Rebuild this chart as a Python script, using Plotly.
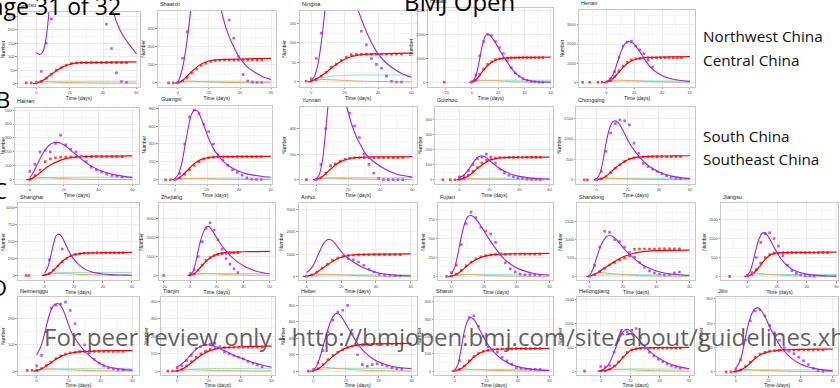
import plotly.graph_objects as go

W, H = 840, 388

PROVINCES = ["Gansu", "Shaanxi", "Ningxia", "Hunan", "Henan",
             "Hainan", "Guangxi", "Yunnan", "Guizhou", "Chongqing",
             "Shanghai", "Zhejiang", "Anhui", "Fujian", "Shandong", "Jiangsu",
             "Neimenggu", "Tianjin", "Hebei", "Shanxi", "Heilongjiang", "Jilin"]

# day grids
T_FIT = [-2, 0, 2, 4, 6, 8, 10, 12, 14, 16, 18, 20, 22, 25, 28, 31, 35, 40, 45, 50, 55, 60]
T_REC = [-2, 0, 4, 8, 12, 16, 20, 25, 30, 40, 50, 60]
T_SMALL = [0, 5, 10, 20, 30, 45, 60]
T_OBS = [-6, -3, 0, 3, 6, 9, 12, 15, 18, 21, 24, 27, 30, 33, 36, 39, 42, 45, 48, 51, 54]

# fitted infected curve (purple)
FIT_I = {
    "Gansu": [None, 115, 108, 118, 175, 300, 600, 1000, 1500, 1800, 2000, 2100, 2100, 2000, 1700, 1300, 900, 500, 290, 200, 150, 110],
    "Shaanxi": [None, 0, 100, 250, 480, 760, 1100, 1400, 1600, 1650, 1550, 1350, 1150, 1000, 790, 600, 430, 270, 170, 110, 65, 36],
    "Ningxia": [None, 2, 15, 45, 100, 175, 260, 330, 380, 400, 390, 350, 300, 235, 185, 150, 110, 72, 48, 32, 20, 12],
    "Hunan": [None, 20, 150, 450, 1000, 1550, 1900, 2000, 1950, 1800, 1650, 1450, 1250, 1000, 750, 520, 300, 130, 55, 25, 12, 8],
    "Henan": [None, 40, 120, 300, 620, 1050, 1500, 1850, 2060, 2120, 2100, 2000, 1800, 1500, 1150, 850, 580, 350, 210, 130, 80, 50],
    "Hainan": [None, 15, 50, 100, 150, 195, 230, 255, 266, 268, 262, 250, 232, 200, 170, 140, 105, 72, 50, 35, 24, 17],
    "Guangxi": [None, 15, 60, 170, 360, 560, 720, 775, 770, 700, 610, 510, 420, 320, 250, 190, 140, 95, 65, 48, 36, 28],
    "Yunnan": [None, 2, 40, 150, 380, 650, 850, 950, 900, 780, 620, 530, 440, 340, 265, 200, 150, 105, 70, 45, 30, 20],
    "Guizhou": [None, 15, 25, 40, 65, 95, 125, 148, 157, 155, 145, 128, 110, 88, 68, 52, 35, 22, 14, 9, 6, 4],
    "Chongqing": [None, 20, 150, 450, 900, 1230, 1410, 1450, 1400, 1280, 1130, 980, 840, 680, 540, 420, 300, 190, 120, 75, 45, 25],
    "Shanghai": [None, 40, 120, 280, 470, 590, 610, 560, 470, 380, 300, 240, 190, 130, 90, 62, 38, 22, 13, 8, 5, 3],
    "Zhejiang": [None, 30, 200, 650, 1300, 1900, 2300, 2580, 2600, 2450, 2230, 2000, 1780, 1480, 1220, 1000, 760, 520, 350, 220, 140, 90],
    "Anhui": [None, 180, 300, 520, 850, 1200, 1500, 1650, 1650, 1530, 1320, 1120, 950, 760, 600, 460, 320, 190, 110, 65, 40, 25],
    "Fujian": [None, 30, 120, 300, 520, 690, 790, 805, 780, 730, 670, 600, 530, 430, 340, 260, 180, 110, 70, 42, 25, 15],
    "Shandong": [None, 20, 200, 480, 750, 950, 1080, 1115, 1090, 1010, 900, 790, 690, 560, 440, 340, 240, 150, 95, 60, 40, 27],
    "Jiangsu": [None, 20, 150, 420, 750, 1000, 1140, 1150, 1060, 920, 770, 630, 500, 360, 250, 170, 110, 60, 35, 20, 12, 8],
    "Neimenggu": [None, 62, 85, 120, 170, 215, 245, 256, 255, 240, 210, 175, 145, 115, 90, 70, 48, 28, 16, 10, 6, 4],
    "Tianjin": [None, 25, 35, 50, 68, 88, 108, 125, 138, 147, 151, 150, 146, 138, 126, 113, 96, 77, 60, 45, 32, 22],
    "Hebei": [None, 10, 60, 160, 300, 440, 570, 660, 700, 690, 640, 570, 500, 400, 310, 240, 170, 110, 75, 50, 38, 30],
    "Shanxi": [None, 5, 40, 130, 230, 290, 310, 300, 270, 235, 200, 168, 140, 108, 82, 62, 42, 26, 16, 10, 6, 4],
    "Heilongjiang": [None, 20, 40, 90, 180, 320, 480, 640, 780, 860, 880, 850, 790, 690, 580, 480, 370, 260, 180, 120, 80, 50],
    "Jilin": [None, 15, 35, 75, 140, 200, 240, 260, 262, 250, 228, 200, 172, 135, 102, 78, 53, 32, 20, 12, 7, 4],
}

# reported infected (purple points)
OBS_I = {
    "Gansu": [None, None, 5, 45, 150, 240, None, None, None, None, None, None, None, None, None, None, 220, 130, 40, 8, 5],
    "Shaanxi": [None, None, 5, 270, 560, None, None, None, None, None, None, None, None, 690, 490, 290, 90, 20, 8, 5, 5],
    "Ningxia": [None, None, 8, 60, 125, None, None, None, None, None, None, None, 130, 95, 60, 45, 35, 15, 2, 0, 0],
    "Hunan": [None, None, 30, 300, 1100, 1700, 2000, 1950, 1700, 1450, 1200, 900, 600, 400, 250, 150, 80, 40, 20, 10, 5],
    "Henan": [None, None, 30, 200, 550, 1300, 1900, 2100, 2150, 1900, 1700, 1500, 1150, 800, None, None, None, None, None, None, None],
    "Hainan": [None, None, 60, 110, 200, 210, 200, 260, 320, 250, 220, 200, 170, 130, 90, 70, 55, 40, 30, 25, 20],
    "Guangxi": [None, None, 5, 70, 400, 700, 780, 740, 620, 540, 400, 280, 220, 160, 110, 80, 50, 20, 5, 3, 2],
    "Yunnan": [None, None, 2, 120, 400, None, None, None, None, 520, 420, 330, 200, 120, 50, 10, 0, 0, 0, 0, 0],
    "Guizhou": [None, None, 20, 25, 60, 100, 140, 150, 170, 150, 110, 70, 45, 30, 20, 12, 8, 4, 2, 1, 0],
    "Chongqing": [None, None, 10, 200, 700, 1150, 1380, 1470, 1450, 1350, 900, 650, 400, 320, 260, 200, 150, 100, 60, 30, 15],
    "Shanghai": [None, None, None, 230, None, None, 390, None, None, None, None, None, None, None, None, None, None, None, None, None, None],
    "Zhejiang": [None, None, 100, 300, 1000, 1800, 2500, 2800, 2400, 1900, 1400, 900, 600, 350, 150, None, None, None, None, None, None],
    "Anhui": [None, None, 20, None, None, None, None, None, None, None, 800, 750, 650, 500, 320, 200, 100, 60, 40, 30, 20],
    "Fujian": [None, None, 50, 150, 420, 700, 850, 780, 650, 600, 560, 450, 300, 180, 100, 60, 30, 20, 20, 20, 15],
    "Shandong": [None, None, 10, 300, 800, 1230, 1200, 1000, 950, 800, 650, 520, 380, 250, 150, 100, 60, 40, 50, 100, 120],
    "Jiangsu": [None, None, 30, 100, 500, 900, 1130, 1150, 1000, 800, 550, 300, 150, 80, 40, 20, 10, 5, None, None, None],
    "Neimenggu": [None, None, 20, 60, 150, 240, 250, 255, 262, 230, 180, 140, 100, 70, 45, 30, 20, 12, 8, 5, 5],
    "Tianjin": [None, None, 20, 30, 60, 90, 130, 140, 150, 155, 160, 140, 110, 100, 90, 80, 70, 55, 45, 35, 25],
    "Hebei": [None, None, 20, 100, 250, 480, 620, 720, 740, 800, 450, 200, 80, 60, 80, 90, 80, 60, 40, 30, 25],
    "Shanxi": [None, None, 5, 60, 200, 310, 320, 260, 200, 140, 120, 110, 80, 60, 40, 20, 15, 12, 10, 10, 10],
    "Heilongjiang": [None, None, 100, 90, 120, 400, 660, 780, 830, 860, 900, 700, 500, 400, 320, 250, 200, 150, 110, 90, 70],
    "Jilin": [None, None, 10, 50, 130, 210, 250, 255, 230, 190, 160, 130, 100, 85, 75, 60, 45, 30, 15, 5, 2],
}

# fitted recovered curve (red)
FIT_R = {
    "Gansu": [0, 2, 12, 30, 48, 62, 72, 77, 78, 79, 80, 81],
    "Shaanxi": [0, 0, 40, 110, 170, 215, 240, 252, 258, 262, 265, 268],
    "Ningxia": [0, 2, 10, 22, 35, 48, 58, 66, 70, 72, 73, 74],
    "Hunan": [0, 5, 150, 450, 700, 870, 960, 1010, 1030, 1040, 1045, 1050],
    "Henan": [0, 5, 150, 450, 780, 1030, 1180, 1270, 1300, 1320, 1330, 1340],
    "Hainan": [0, 2, 30, 70, 105, 130, 148, 160, 166, 169, 170, 171],
    "Guangxi": [0, 2, 40, 110, 180, 225, 245, 255, 258, 260, 261, 262],
    "Yunnan": [0, 2, 25, 70, 115, 145, 162, 172, 176, 178, 179, 180],
    "Guizhou": [0, 2, 15, 40, 75, 105, 128, 142, 147, 149, 150, 150],
    "Chongqing": [0, 2, 40, 150, 290, 400, 490, 550, 570, 580, 585, 590],
    "Shanghai": [0, 5, 40, 120, 210, 270, 305, 325, 333, 336, 338, 340],
    "Zhejiang": [0, 10, 150, 450, 750, 980, 1120, 1200, 1240, 1260, 1270, 1280],
    "Anhui": [0, 10, 100, 300, 520, 720, 860, 950, 985, 1000, 1005, 1010],
    "Fujian": [0, 5, 40, 110, 180, 230, 265, 285, 295, 300, 302, 305],
    "Shandong": [0, 5, 80, 200, 320, 430, 530, 610, 660, 700, 710, 715],
    "Jiangsu": [0, 5, 80, 250, 450, 580, 620, 630, 635, 637, 640, 640],
    "Neimenggu": [0, 2, 12, 28, 45, 58, 66, 72, 75, 77, 78, 78],
    "Tianjin": [0, 2, 15, 40, 70, 95, 115, 128, 135, 140, 142, 143],
    "Hebei": [0, 5, 40, 110, 180, 240, 280, 310, 325, 332, 335, 337],
    "Shanxi": [0, 2, 15, 45, 80, 105, 118, 125, 128, 130, 131, 132],
    "Heilongjiang": [0, 5, 20, 70, 180, 320, 430, 480, 490, 495, 497, 500],
    "Jilin": [0, 2, 10, 30, 55, 72, 82, 87, 90, 92, 93, 93],
}

# reported recovered (red points)
OBS_R = {
    "Gansu": [3, 3, 3, 8, 20, 35, 50, 60, 68, 74, 77, 78, 78, 78, 78, 78, 78, 78, 78, 78, 78],
    "Shaanxi": [0, 0, 2, 20, 60, 110, 150, 190, 215, 235, 245, 250, 250, 250, 250, 250, 250, 250, 250, 250, 250],
    "Ningxia": [None, 2, 2, 6, 15, 25, 38, 45, 55, 64, 70, 71, 71, 71, 71, 71, 71, 71, 71, 71, 71],
    "Hunan": [None, None, 5, 100, 330, 550, 750, 850, 950, 980, 1000, 1010, 1020, 1025, 1025, 1030, 1030, 1030, 1030, 1030, 1030],
    "Henan": [0, 0, 5, 80, 300, 600, 850, 1050, 1180, 1230, 1260, 1270, 1280, 1280, 1285, 1285, 1290, 1290, 1290, 1290, 1290],
    "Hainan": [None, None, 2, 30, 70, 130, 150, 158, 162, 163, 163, 164, 164, 164, 165, 165, 165, 165, 165, 165, 165],
    "Guangxi": [0, 0, 2, 20, 60, 110, 160, 200, 230, 245, 252, 255, 255, 255, 255, 255, 255, 255, 255, 255, 255],
    "Yunnan": [0, None, 2, 15, 50, 110, 125, 145, 160, 168, 172, 172, 172, 172, 172, 172, 172, 172, 172, 172, 172],
    "Guizhou": [0, 0, 2, 10, 30, 55, 80, 110, 130, 140, 145, 147, 147, 148, 148, 148, 148, 148, 148, 148, 148],
    "Chongqing": [0, None, 2, 20, 80, 180, 280, 370, 450, 510, 540, 555, 560, 560, 562, 563, 564, 565, 565, 565, 565],
    "Shanghai": [None, None, 10, 30, 80, 140, 200, 250, 290, 310, 320, 328, 330, 332, 333, 334, 335, 335, 335, 335, 335],
    "Zhejiang": [None, None, 10, 80, 280, 550, 800, 950, 1050, 1120, 1160, 1180, 1200, 1200, 1210, None, None, None, None, None, None],
    "Anhui": [None, None, 10, 60, 200, 380, 560, 720, 830, 900, 940, 960, 970, 975, 975, 978, 978, 980, 980, 980, 980],
    "Fujian": [None, 0, 5, 30, 80, 140, 190, 230, 260, 275, 285, 290, 292, 293, 294, 295, 295, 295, 295, 295, 295],
    "Shandong": [None, None, 5, 50, 130, 220, 310, 380, 450, 500, 560, 740, 745, 745, 748, 748, 750, 750, 750, 750, 750],
    "Jiangsu": [None, None, 5, 50, 180, 350, 500, 580, 610, 620, 622, 623, 624, 625, 625, 625, 625, 625, 625, 625, 625],
    "Neimenggu": [3, 3, 3, 10, 22, 35, 48, 58, 65, 70, 72, 74, 74, 75, 75, 75, 75, 75, 75, 75, 75],
    "Tianjin": [0, 0, 2, 10, 30, 55, 80, 100, 115, 125, 130, 133, 135, 136, 136, 137, 137, 137, 137, 137, 137],
    "Hebei": [None, 0, 5, 30, 80, 140, 190, 230, 260, 290, 305, 315, 320, 325, 327, 328, 329, 330, 330, 330, 330],
    "Shanxi": [None, None, 2, 10, 30, 60, 85, 105, 115, 120, 125, 127, 128, 129, 129, 130, 130, 130, 130, 130, 130],
    "Heilongjiang": [None, None, 5, 10, 40, 110, 200, 300, 400, 450, 470, 480, 482, 483, 484, 485, 485, 485, 485, 485, 485],
    "Jilin": [0, 0, 2, 8, 22, 40, 60, 73, 80, 85, 87, 88, 89, 89, 90, 90, 90, 90, 90, 90, 90],
}

# earliest recorded days (red points before the grid starts)
RED_LEAD_DAYS = {"Hunan": [-21], "Henan": [-17, -12], "Guizhou": [-11], "Chongqing": [-8],
                 "Shanghai": [-13, -11], "Zhejiang": [-20], "Jiangsu": [-12], "Heilongjiang": [-11]}
RED_LEAD_VALUES = {"Hunan": [0], "Henan": [0, 0], "Guizhou": [0], "Chongqing": [0],
                   "Shanghai": [0, 0], "Zhejiang": [0], "Jiangsu": [0], "Heilongjiang": [0]}

# fitted deaths (cyan) and exposed (orange)
FIT_C = {
    "Gansu": [4, 8, 9, 9, 9, 9, 9], "Shaanxi": [2, 10, 15, 18, 18, 18, 18],
    "Ningxia": [2, 8, 14, 17, 18, 18, 18], "Hunan": [5, 40, 70, 85, 90, 90, 90],
    "Henan": [5, 40, 60, 70, 70, 70, 70], "Hainan": [2, 10, 15, 18, 18, 18, 18],
    "Guangxi": [2, 10, 15, 18, 18, 18, 18], "Yunnan": [2, 10, 15, 15, 15, 15, 15],
    "Guizhou": [2, 6, 8, 10, 10, 10, 10], "Chongqing": [5, 20, 30, 35, 35, 35, 35],
    "Shanghai": [5, 30, 40, 45, 45, 45, 45], "Zhejiang": [5, 50, 80, 100, 100, 100, 100],
    "Anhui": [5, 40, 60, 70, 70, 70, 70], "Fujian": [5, 20, 25, 28, 28, 28, 28],
    "Shandong": [5, 30, 40, 45, 45, 45, 45], "Jiangsu": [5, 30, 45, 50, 50, 50, 50],
    "Neimenggu": [2, 6, 8, 9, 9, 9, 9], "Tianjin": [2, 8, 12, 14, 14, 14, 14],
    "Hebei": [5, 20, 30, 35, 35, 35, 35], "Shanxi": [2, 6, 8, 10, 10, 10, 10],
    "Heilongjiang": [5, 20, 35, 45, 45, 45, 45], "Jilin": [2, 5, 7, 8, 8, 8, 8],
}
FIT_O = {
    "Gansu": [2, 7, 6, 4, 3, 2, 2], "Shaanxi": [2, 20, 18, 10, 5, 2, 1],
    "Ningxia": [2, 6, 6, 4, 2, 1, 0], "Hunan": [5, 80, 90, 60, 30, 10, 5],
    "Henan": [5, 100, 110, 80, 40, 15, 5], "Hainan": [2, 14, 14, 8, 4, 2, 1],
    "Guangxi": [2, 15, 14, 10, 5, 2, 1], "Yunnan": [2, 12, 12, 8, 4, 2, 1],
    "Guizhou": [2, 6, 5, 3, 2, 1, 0], "Chongqing": [5, 35, 35, 20, 10, 4, 2],
    "Shanghai": [5, 30, 30, 20, 12, 6, 3], "Zhejiang": [5, 100, 110, 80, 40, 15, 5],
    "Anhui": [5, 100, 100, 70, 35, 12, 5], "Fujian": [5, 25, 25, 15, 8, 3, 1],
    "Shandong": [5, 100, 90, 50, 25, 10, 5], "Jiangsu": [5, 80, 70, 40, 20, 8, 3],
    "Neimenggu": [2, 8, 8, 5, 3, 1, 1], "Tianjin": [2, 8, 8, 5, 3, 1, 1],
    "Hebei": [5, 40, 40, 25, 12, 5, 2], "Shanxi": [2, 12, 10, 6, 3, 1, 1],
    "Heilongjiang": [5, 30, 40, 30, 15, 6, 2], "Jilin": [2, 10, 8, 5, 3, 1, 1],
}

X_RANGE = {
    "Gansu": [-11, 62], "Shaanxi": [-13, 63], "Ningxia": [-7, 63], "Hunan": [-33, 62],
    "Henan": [-19.5, 63.8], "Hainan": [-8.7, 63.8], "Guangxi": [-10.3, 60.6],
    "Yunnan": [-10.3, 62.6], "Guizhou": [-16, 62.6], "Chongqing": [-13.2, 63.4],
    "Shanghai": [-18.6, 64.8], "Zhejiang": [-23.75, 63.75], "Anhui": [-4.6, 63.4],
    "Fujian": [-8, 62.4], "Shandong": [-7.5, 63.5], "Jiangsu": [-17.8, 61.1],
    "Neimenggu": [-11.8, 64], "Tianjin": [-10.5, 62], "Hebei": [-8.9, 63],
    "Shanxi": [-13, 62.5], "Heilongjiang": [-16, 63.4], "Jilin": [-12.2, 63.3],
}
Y_RANGE = {
    "Gansu": [-12, 266], "Shaanxi": [-44, 790], "Ningxia": [-12.5, 182], "Hunan": [-190, 3100],
    "Henan": [-240, 3790], "Hainan": [-28, 518], "Guangxi": [-44, 829], "Yunnan": [-31, 572],
    "Guizhou": [-26, 485], "Chongqing": [-97, 1800], "Shanghai": [-72, 1064],
    "Zhejiang": [-260, 3830], "Anhui": [-175, 3280], "Fujian": [-52, 966],
    "Shandong": [-107, 1990], "Jiangsu": [-104, 1930], "Neimenggu": [-15, 281],
    "Tianjin": [-23, 425], "Hebei": [-48, 900], "Shanxi": [-23, 428],
    "Heilongjiang": [-83, 1560], "Jilin": [-13.5, 307],
}
Y_DTICK = {
    "Gansu": 50, "Shaanxi": 200, "Ningxia": 50, "Hunan": 1000, "Henan": 1000,
    "Hainan": 100, "Guangxi": 200, "Yunnan": 200, "Guizhou": 100, "Chongqing": 500,
    "Shanghai": 250, "Zhejiang": 1000, "Anhui": 1000, "Fujian": 250, "Shandong": 500,
    "Jiangsu": 500, "Neimenggu": 100, "Tianjin": 100, "Hebei": 200, "Shanxi": 100,
    "Heilongjiang": 500, "Jilin": 100,
}

# panel boxes in pixels: left, right, top, bottom
BOX = {
    "Gansu": (13, 136, 11, 87), "Shaanxi": (154, 273, 10, 87), "Ningxia": (297, 415, 10, 87),
    "Hunan": (427, 553, 7, 87), "Henan": (579, 696, 9, 87),
    "Hainan": (10, 135, 108, 185), "Guangxi": (155, 269, 106, 185), "Yunnan": (297, 415, 107, 185),
    "Guizhou": (434, 553, 107, 185), "Chongqing": (576, 696, 107, 185),
    "Shanghai": (13, 135, 205, 283), "Zhejiang": (155, 272, 205, 283), "Anhui": (296, 415, 205, 283),
    "Fujian": (437, 553, 205, 283), "Shandong": (577, 696, 205, 283), "Jiangsu": (722, 840, 205, 283),
    "Neimenggu": (13, 135, 300, 379), "Tianjin": (157, 272, 300, 379), "Hebei": (296, 415, 300, 379),
    "Shanxi": (433, 553, 300, 379), "Heilongjiang": (577, 695, 300, 379), "Jilin": (717, 840, 300, 379),
}

PURPLE = "#a020f0"
PURPLE_PT = "#b45cf5"
RED = "#ff0000"
RED_PT = "#ff4a4a"
CYAN = "#7fe8c8"
ORANGE = "#f4a15d"
GRID = "#ebebeb"
GRID_MINOR = "#f5f5f5"
BORDER = "#c8c8c8"
FONT = "Liberation Sans"

fig = go.Figure()
layout = {}
annotations = []

for i, name in enumerate(PROVINCES):
    n = i + 1
    sfx = "" if n == 1 else str(n)
    xa, ya = "x" + sfx, "y" + sfx
    common = dict(xaxis=xa, yaxis=ya, showlegend=False, hoverinfo="skip")

    fig.add_trace(go.Scatter(x=T_SMALL, y=FIT_C[name], mode="lines",
                             line=dict(color=CYAN, width=1, shape="spline"), **common))
    fig.add_trace(go.Scatter(x=T_SMALL, y=FIT_O[name], mode="lines",
                             line=dict(color=ORANGE, width=1, shape="spline"), **common))
    lead_x = RED_LEAD_DAYS.get(name, [])
    lead_y = RED_LEAD_VALUES.get(name, [])
    fig.add_trace(go.Scatter(x=lead_x + T_OBS, y=lead_y + OBS_R[name], mode="markers",
                             marker=dict(color=RED_PT, size=2.6, symbol="square",
                                         line=dict(width=0)), **common))
    fig.add_trace(go.Scatter(x=T_REC, y=FIT_R[name], mode="lines",
                             line=dict(color=RED, width=1.2, shape="spline", smoothing=0.8), **common))
    fig.add_trace(go.Scatter(x=T_OBS, y=OBS_I[name], mode="markers",
                             marker=dict(color=PURPLE_PT, size=2.6, symbol="square",
                                         line=dict(width=0)), **common))
    fig.add_trace(go.Scatter(x=T_FIT, y=FIT_I[name], mode="lines",
                             line=dict(color=PURPLE, width=1.1, shape="spline", smoothing=0.8), **common))

    x0, x1, y0, y1 = BOX[name]
    dt = Y_DTICK[name]
    layout["xaxis" + sfx] = dict(
        domain=[x0 / W, x1 / W], range=X_RANGE[name], anchor=ya,
        tick0=0, dtick=20, showgrid=True, gridcolor=GRID, gridwidth=0.6,
        minor=dict(dtick=10, tick0=0, showgrid=True, gridcolor=GRID_MINOR, gridwidth=0.4),
        zeroline=False, showline=True, mirror=True, linecolor=BORDER, linewidth=0.8,
        ticks="outside", ticklen=1.5, tickwidth=0.5, tickcolor="#999999",
        tickfont=dict(size=4, color="#4d4d4d", family=FONT),
        title=dict(text="Time (days)", font=dict(size=5, color="#222222", family=FONT), standoff=1),
    )
    layout["yaxis" + sfx] = dict(
        domain=[1 - y1 / H, 1 - y0 / H], range=Y_RANGE[name], anchor=xa,
        tick0=0, dtick=dt, showgrid=True, gridcolor=GRID, gridwidth=0.6,
        minor=dict(dtick=dt / 2, tick0=0, showgrid=True, gridcolor=GRID_MINOR, gridwidth=0.4),
        zeroline=False, showline=True, mirror=True, linecolor=BORDER, linewidth=0.8,
        ticks="outside", ticklen=1.5, tickwidth=0.5, tickcolor="#999999",
        tickfont=dict(size=4, color="#4d4d4d", family=FONT),
        title=dict(text="Number", font=dict(size=5, color="#222222", family=FONT), standoff=2),
    )
    annotations.append(dict(
        x=x0 / W, y=1 - (y0 - 1.5) / H, xref="paper", yref="paper",
        xanchor="left", yanchor="bottom", text=name, showarrow=False,
        font=dict(size=5.5, color="#222222", family=FONT),
    ))

# page furniture around the figure
PAGE = [
    ("Page 31 of 32", 119, -13, 23, "right", "#000000"),
    ("BMJ Open", 400, -18, 24, "left", "#000000"),
    ("B", -11, 82, 22, "left", "#000000"),
    ("C", -14, 174, 22, "left", "#000000"),
    ("D", -16, 273, 22, "left", "#000000"),
]
for text, px, py, size, anchor, color in PAGE:
    annotations.append(dict(
        x=px / W, y=1 - py / H, xref="paper", yref="paper", xanchor=anchor, yanchor="top",
        text=text, showarrow=False, font=dict(size=size, color=color, family="Open Sans"),
    ))

REGIONS = [("Northwest China", 35), ("Central China", 60), ("South China", 137), ("Southeast China", 160)]
for text, py in REGIONS:
    annotations.append(dict(
        x=702 / W, y=1 - py / H, xref="paper", yref="paper", xanchor="left", yanchor="middle",
        text=text, showarrow=False, font=dict(size=15.3, color="#111111", family="Open Sans"),
    ))

annotations.append(dict(
    x=37 / W, y=1 - 340 / H, xref="paper", yref="paper", xanchor="left", yanchor="middle",
    text="For peer review only - http://bmjopen.bmj.com/site/about/guidelines.xhtml",
    showarrow=False, font=dict(size=24, color="rgba(70,70,70,0.85)", family="Open Sans"),
))

fig.update_layout(
    width=W, height=H, autosize=False,
    margin=dict(l=0, r=0, t=0, b=0),
    paper_bgcolor="white", plot_bgcolor="white",
    annotations=annotations, **layout,
)

fig.write_html("out.html")
